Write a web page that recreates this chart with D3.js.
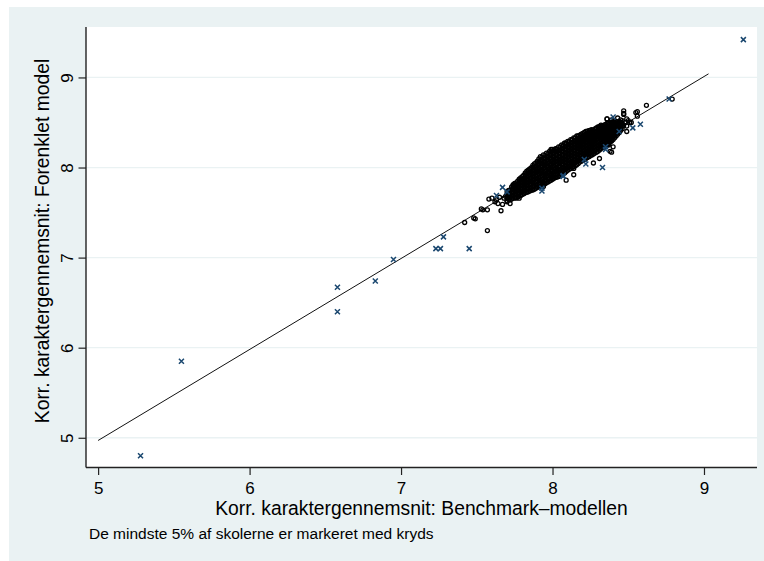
<!DOCTYPE html>
<html>
<head>
<meta charset="utf-8">
<script src="https://cdn.jsdelivr.net/npm/d3@7"></script>
<style>
  body { margin: 0; background: #fff; }
  svg { display: block; }
  text { font-family: "Liberation Sans", Arial, Helvetica, sans-serif; fill: #000; }
</style>
</head>
<body>
<svg id="chart" width="764" height="561"></svg>
<script>
// Axis ticks and labels
const xTicks = [5, 6, 7, 8, 9];
const yTicks = [5, 6, 7, 8, 9];
const xTitle = "Korr. karaktergennemsnit: Benchmark\u2013modellen";
const yTitle = "Korr. karaktergennemsnit: Forenklet model";
const note = "De mindste 5% af skolerne er markeret med kryds";

// Reference line (benchmark = simplified)
const refLine = [[5.0, 4.97], [9.03, 9.04]];

// The smallest 5% of schools, drawn as crosses: [benchmark, simplified]
const smallSchools = [
  [5.28, 4.80], [5.55, 5.85], [6.58, 6.67], [6.58, 6.40], [6.83, 6.74],
  [6.95, 6.98], [7.23, 7.10], [7.26, 7.10], [7.28, 7.23], [7.45, 7.10],
  [9.26, 9.42], [8.77, 8.76], [8.53, 8.44], [8.58, 8.48], [8.40, 8.56],
  [8.44, 8.40], [8.35, 8.20], [8.21, 8.09], [8.22, 8.04], [8.33, 8.00],
  [8.07, 7.90], [7.93, 7.74], [7.67, 7.78], [7.70, 7.73], [7.63, 7.69],
  [8.35, 8.23], [8.07, 7.91], [7.93, 7.77]
];

// Other schools outside the dense core: [benchmark, simplified]
const edgeSchools = [
  [8.79, 8.76], [8.62, 8.69], [8.55, 8.61], [8.56, 8.57], [8.47, 8.63],
  [8.47, 8.59], [8.36, 8.54], [8.49, 8.40], [8.39, 8.17], [8.14, 7.99],
  [8.14, 7.92], [8.09, 7.86], [8.09, 8.27], [7.85, 7.98], [7.74, 7.79],
  [7.58, 7.65], [7.53, 7.54], [7.57, 7.53], [7.66, 7.52], [7.49, 7.43],
  [7.42, 7.39], [7.57, 7.30], [7.74, 7.81], [7.62, 7.62], [7.64, 7.60],
  [7.54, 7.53], [7.67, 7.59], [7.72, 7.60], [7.76, 7.66], [7.48, 7.44],
  [8.02, 8.20], [8.08, 8.27], [8.31, 8.45], [8.36, 8.46], [8.39, 8.53],
  [8.37, 8.25], [8.34, 8.23], [8.42, 8.38], [8.49, 8.54], [8.51, 8.50],
  [8.42, 8.49], [8.46, 8.46], [8.44, 8.44], [8.38, 8.29], [8.40, 8.23],
  [8.06, 7.92], [7.60, 7.66], [7.65, 7.67], [7.68, 7.66], [7.70, 7.62],
  [7.69, 7.68], [7.63, 7.64], [8.48, 8.50], [8.50, 8.52], [8.47, 8.47],
  [8.52, 8.50], [8.49, 8.46], [8.45, 8.53], [8.43, 8.55], [8.36, 8.54],
  [8.32, 8.47], [8.47, 8.60], [8.56, 8.62],
  [7.99, 8.20], [8.02, 8.18], [8.15, 8.29], [8.19, 8.31], [8.26, 8.34],
  [8.30, 8.44], [8.37, 8.49], [8.00, 7.88], [7.94, 7.79], [7.87, 7.75],
  [7.78, 7.66], [8.27, 8.05], [8.31, 8.10], [8.38, 8.18]
];

// Dense core of schools, grouped by benchmark value: [benchmark, [simplified...]]
const clusterColumns = [
  [7.70, [7.63, 7.66, 7.70, 7.73]],
  [7.71, [7.645, 7.68, 7.71, 7.745]],
  [7.72, [7.64, 7.68, 7.71, 7.75]],
  [7.73, [7.65, 7.685, 7.72, 7.755, 7.785]],
  [7.74, [7.66, 7.69, 7.73, 7.76, 7.80]],
  [7.75, [7.665, 7.70, 7.735, 7.77, 7.80, 7.825]],
  [7.76, [7.67, 7.71, 7.74, 7.78, 7.81, 7.83]],
  [7.77, [7.675, 7.71, 7.745, 7.78, 7.815, 7.85]],
  [7.78, [7.68, 7.72, 7.75, 7.79, 7.83, 7.87]],
  [7.79, [7.69, 7.725, 7.76, 7.795, 7.83, 7.86, 7.885]],
  [7.80, [7.70, 7.73, 7.77, 7.80, 7.84, 7.87, 7.90]],
  [7.81, [7.71, 7.74, 7.775, 7.81, 7.845, 7.88, 7.915]],
  [7.82, [7.72, 7.75, 7.79, 7.82, 7.86, 7.90, 7.94]],
  [7.83, [7.725, 7.76, 7.795, 7.83, 7.865, 7.90, 7.935, 7.96]],
  [7.84, [7.73, 7.77, 7.80, 7.84, 7.87, 7.91, 7.94, 7.97]],
  [7.85, [7.74, 7.775, 7.81, 7.845, 7.88, 7.915, 7.95, 7.985]],
  [7.86, [7.75, 7.78, 7.82, 7.85, 7.89, 7.93, 7.96, 8.00]],
  [7.87, [7.755, 7.79, 7.825, 7.86, 7.895, 7.93, 7.965, 8.00, 8.025]],
  [7.88, [7.76, 7.80, 7.83, 7.87, 7.90, 7.94, 7.97, 8.01, 8.04]],
  [7.89, [7.77, 7.805, 7.84, 7.875, 7.91, 7.945, 7.98, 8.015, 8.05]],
  [7.90, [7.78, 7.81, 7.85, 7.88, 7.92, 7.96, 7.99, 8.03, 8.07]],
  [7.91, [7.785, 7.82, 7.855, 7.89, 7.925, 7.96, 7.995, 8.03, 8.065, 8.095]],
  [7.92, [7.79, 7.83, 7.86, 7.90, 7.94, 7.97, 8.01, 8.05, 8.08, 8.12]],
  [7.93, [7.80, 7.835, 7.87, 7.905, 7.94, 7.975, 8.01, 8.045, 8.08, 8.115]],
  [7.94, [7.81, 7.84, 7.88, 7.92, 7.95, 7.99, 8.03, 8.06, 8.10, 8.14]],
  [7.95, [7.82, 7.855, 7.89, 7.925, 7.96, 7.995, 8.03, 8.065, 8.10, 8.135]],
  [7.96, [7.83, 7.86, 7.90, 7.93, 7.97, 8.01, 8.04, 8.08, 8.12, 8.16]],
  [7.97, [7.84, 7.875, 7.91, 7.945, 7.98, 8.015, 8.05, 8.085, 8.12, 8.155]],
  [7.98, [7.85, 7.88, 7.92, 7.95, 7.99, 8.03, 8.06, 8.10, 8.14, 8.18]],
  [7.99, [7.86, 7.895, 7.93, 7.965, 8.00, 8.035, 8.07, 8.105, 8.14, 8.175]],
  [8.00, [7.87, 7.90, 7.94, 7.97, 8.01, 8.05, 8.08, 8.12, 8.16, 8.20]],
  [8.01, [7.88, 7.915, 7.95, 7.985, 8.02, 8.055, 8.09, 8.125, 8.16, 8.19]],
  [8.02, [7.89, 7.92, 7.96, 7.99, 8.03, 8.07, 8.10, 8.14, 8.18, 8.21]],
  [8.03, [7.895, 7.93, 7.965, 8.00, 8.035, 8.07, 8.105, 8.14, 8.175, 8.205]],
  [8.04, [7.90, 7.94, 7.97, 8.01, 8.05, 8.08, 8.12, 8.16, 8.19, 8.23]],
  [8.05, [7.91, 7.945, 7.98, 8.015, 8.05, 8.085, 8.12, 8.155, 8.19, 8.225]],
  [8.06, [7.92, 7.96, 7.99, 8.03, 8.07, 8.10, 8.14, 8.18, 8.21, 8.25]],
  [8.07, [7.93, 7.965, 8.00, 8.035, 8.07, 8.105, 8.14, 8.175, 8.21, 8.245]],
  [8.08, [7.94, 7.98, 8.01, 8.05, 8.09, 8.12, 8.16, 8.20, 8.23, 8.27]],
  [8.09, [7.955, 7.99, 8.025, 8.06, 8.095, 8.13, 8.165, 8.20, 8.235, 8.265]],
  [8.10, [7.97, 8.00, 8.04, 8.07, 8.11, 8.15, 8.18, 8.22, 8.25, 8.29]],
  [8.11, [7.98, 8.015, 8.05, 8.085, 8.12, 8.155, 8.19, 8.225, 8.26, 8.29]],
  [8.12, [7.99, 8.02, 8.06, 8.09, 8.13, 8.17, 8.20, 8.24, 8.27, 8.31]],
  [8.13, [8.00, 8.035, 8.07, 8.105, 8.14, 8.175, 8.21, 8.245, 8.28, 8.31]],
  [8.14, [8.01, 8.04, 8.08, 8.12, 8.15, 8.19, 8.22, 8.26, 8.29, 8.33]],
  [8.15, [8.02, 8.055, 8.09, 8.125, 8.16, 8.195, 8.23, 8.265, 8.30, 8.33]],
  [8.16, [8.03, 8.07, 8.10, 8.14, 8.17, 8.21, 8.24, 8.28, 8.31, 8.35]],
  [8.17, [8.045, 8.08, 8.115, 8.15, 8.185, 8.22, 8.255, 8.29, 8.32, 8.35]],
  [8.18, [8.06, 8.09, 8.13, 8.16, 8.20, 8.23, 8.27, 8.30, 8.33, 8.36]],
  [8.19, [8.07, 8.105, 8.14, 8.175, 8.21, 8.245, 8.28, 8.31, 8.34, 8.37]],
  [8.20, [8.08, 8.11, 8.15, 8.18, 8.22, 8.25, 8.29, 8.32, 8.35, 8.38]],
  [8.21, [8.09, 8.125, 8.16, 8.195, 8.23, 8.265, 8.30, 8.33, 8.36, 8.39]],
  [8.22, [8.10, 8.13, 8.17, 8.20, 8.24, 8.27, 8.31, 8.34, 8.37, 8.40]],
  [8.23, [8.11, 8.145, 8.18, 8.215, 8.25, 8.285, 8.32, 8.35, 8.38, 8.405]],
  [8.24, [8.12, 8.15, 8.19, 8.22, 8.26, 8.29, 8.32, 8.35, 8.38, 8.41]],
  [8.25, [8.13, 8.165, 8.20, 8.235, 8.27, 8.30, 8.33, 8.36, 8.39, 8.415]],
  [8.26, [8.14, 8.17, 8.21, 8.24, 8.28, 8.31, 8.34, 8.37, 8.40, 8.42]],
  [8.27, [8.15, 8.185, 8.22, 8.255, 8.29, 8.32, 8.35, 8.38, 8.41]],
  [8.28, [8.16, 8.19, 8.23, 8.26, 8.30, 8.33, 8.36, 8.39, 8.43]],
  [8.29, [8.17, 8.205, 8.24, 8.275, 8.31, 8.34, 8.37, 8.40, 8.44]],
  [8.30, [8.18, 8.21, 8.25, 8.28, 8.32, 8.35, 8.38, 8.41, 8.45]],
  [8.31, [8.195, 8.23, 8.26, 8.295, 8.33, 8.36, 8.39, 8.42, 8.455]],
  [8.32, [8.21, 8.24, 8.27, 8.31, 8.34, 8.37, 8.40, 8.43, 8.46]],
  [8.33, [8.22, 8.25, 8.285, 8.32, 8.35, 8.38, 8.41, 8.435, 8.465]],
  [8.34, [8.23, 8.26, 8.30, 8.33, 8.36, 8.39, 8.42, 8.44, 8.47]],
  [8.35, [8.24, 8.275, 8.31, 8.34, 8.37, 8.40, 8.43, 8.455, 8.48]],
  [8.36, [8.25, 8.29, 8.32, 8.35, 8.38, 8.41, 8.44, 8.46, 8.49]],
  [8.37, [8.265, 8.30, 8.33, 8.36, 8.39, 8.42, 8.45, 8.475]],
  [8.38, [8.28, 8.31, 8.34, 8.37, 8.40, 8.43, 8.46, 8.49]],
  [8.39, [8.295, 8.325, 8.355, 8.385, 8.415, 8.445, 8.47, 8.50]],
  [8.40, [8.31, 8.34, 8.37, 8.40, 8.43, 8.46, 8.48, 8.51]],
  [8.41, [8.33, 8.36, 8.39, 8.42, 8.45, 8.475, 8.50]],
  [8.42, [8.35, 8.38, 8.41, 8.44, 8.47, 8.49, 8.51]],
  [8.43, [8.37, 8.40, 8.43, 8.46, 8.49, 8.51]],
  [8.44, [8.39, 8.42, 8.45, 8.48, 8.51]],
  [8.45, [8.41, 8.44, 8.47, 8.50]],
  [8.46, [8.43, 8.46, 8.49, 8.52]]
];

const W = 764, H = 561;
const plot = { left: 86, right: 757, top: 27, bottom: 467.5 };

const svg = d3.select("#chart");

// Page and graph backgrounds
svg.append("rect").attr("width", W).attr("height", H).attr("fill", "#ffffff");
svg.append("rect").attr("x", 9).attr("y", 7).attr("width", W - 9).attr("height", H - 7).attr("fill", "#eaf2f3");
svg.append("rect")
  .attr("x", plot.left).attr("y", plot.top)
  .attr("width", plot.right - plot.left).attr("height", plot.bottom - plot.top)
  .attr("fill", "#ffffff");

const x = d3.scaleLinear().domain([4.92, 9.35]).range([plot.left, plot.right]);
const y = d3.scaleLinear().domain([4.67, 9.56]).range([plot.bottom, plot.top]);

// Horizontal grid lines
svg.append("g").selectAll("line").data(yTicks).join("line")
  .attr("x1", plot.left).attr("x2", plot.right)
  .attr("y1", d => y(d)).attr("y2", d => y(d))
  .attr("stroke", "#eaf2f3").attr("stroke-width", 1.3);

// Reference line
svg.append("path")
  .datum(refLine)
  .attr("d", d3.line().x(d => x(d[0])).y(d => y(d[1])))
  .attr("fill", "none").attr("stroke", "#111").attr("stroke-width", 1);

// Schools as hollow circles
const circles = edgeSchools.concat(clusterColumns.flatMap(([bx, ys]) => ys.map(v => [bx, v])));
svg.append("g").selectAll("circle").data(circles).join("circle")
  .attr("cx", d => x(d[0])).attr("cy", d => y(d[1])).attr("r", 2)
  .attr("fill", "none").attr("stroke", "#000").attr("stroke-width", 1.3);

// Smallest schools as crosses
const s = 2.5;
svg.append("g").selectAll("path").data(smallSchools).join("path")
  .attr("d", d => {
    const cx = x(d[0]), cy = y(d[1]);
    return `M${cx - s},${cy - s}L${cx + s},${cy + s}M${cx - s},${cy + s}L${cx + s},${cy - s}`;
  })
  .attr("fill", "none").attr("stroke", "#1a476f").attr("stroke-width", 1.5);

// Axes
const xAxis = d3.axisBottom(x).tickValues(xTicks).tickSize(7.5).tickPadding(5).tickFormat(d3.format("d"));
const gx = svg.append("g").attr("transform", `translate(0,${plot.bottom})`).call(xAxis);
gx.select(".domain").attr("d", `M${plot.left},0H${plot.right}`);
const yAxis = d3.axisLeft(y).tickValues(yTicks).tickSize(7.5).tickFormat(d3.format("d"));
const gy = svg.append("g").attr("transform", `translate(${plot.left},0)`).call(yAxis);
gy.select(".domain").attr("d", `M0,${plot.top}V${plot.bottom}`);

[gx, gy].forEach(g => {
  g.select(".domain").attr("stroke", "#222").attr("stroke-width", 1.4);
  g.selectAll(".tick line").attr("stroke", "#222").attr("stroke-width", 1.2);
  g.selectAll(".tick text")
    .attr("font-family", "'Liberation Sans', Arial, sans-serif")
    .attr("font-size", 17).attr("fill", "#000");
});
gx.selectAll(".tick text").attr("y", null).attr("dy", null)
  .attr("y", 494 - plot.bottom);
gy.selectAll(".tick text")
  .attr("x", null).attr("dy", null)
  .attr("text-anchor", "middle")
  .attr("transform", `translate(${73 - plot.left},0) rotate(-90)`)
  .attr("x", 0).attr("y", 0);

// Axis titles and note
svg.append("text").attr("x", (plot.left + plot.right) / 2).attr("y", 515)
  .attr("text-anchor", "middle").attr("font-size", 19.3).text(xTitle);
svg.append("text").attr("transform", "translate(49,241) rotate(-90)")
  .attr("text-anchor", "middle").attr("font-size", 19.3).text(yTitle);
svg.append("text").attr("x", 89).attr("y", 538.5)
  .attr("font-size", 15.5).text(note);
</script>
</body>
</html>
